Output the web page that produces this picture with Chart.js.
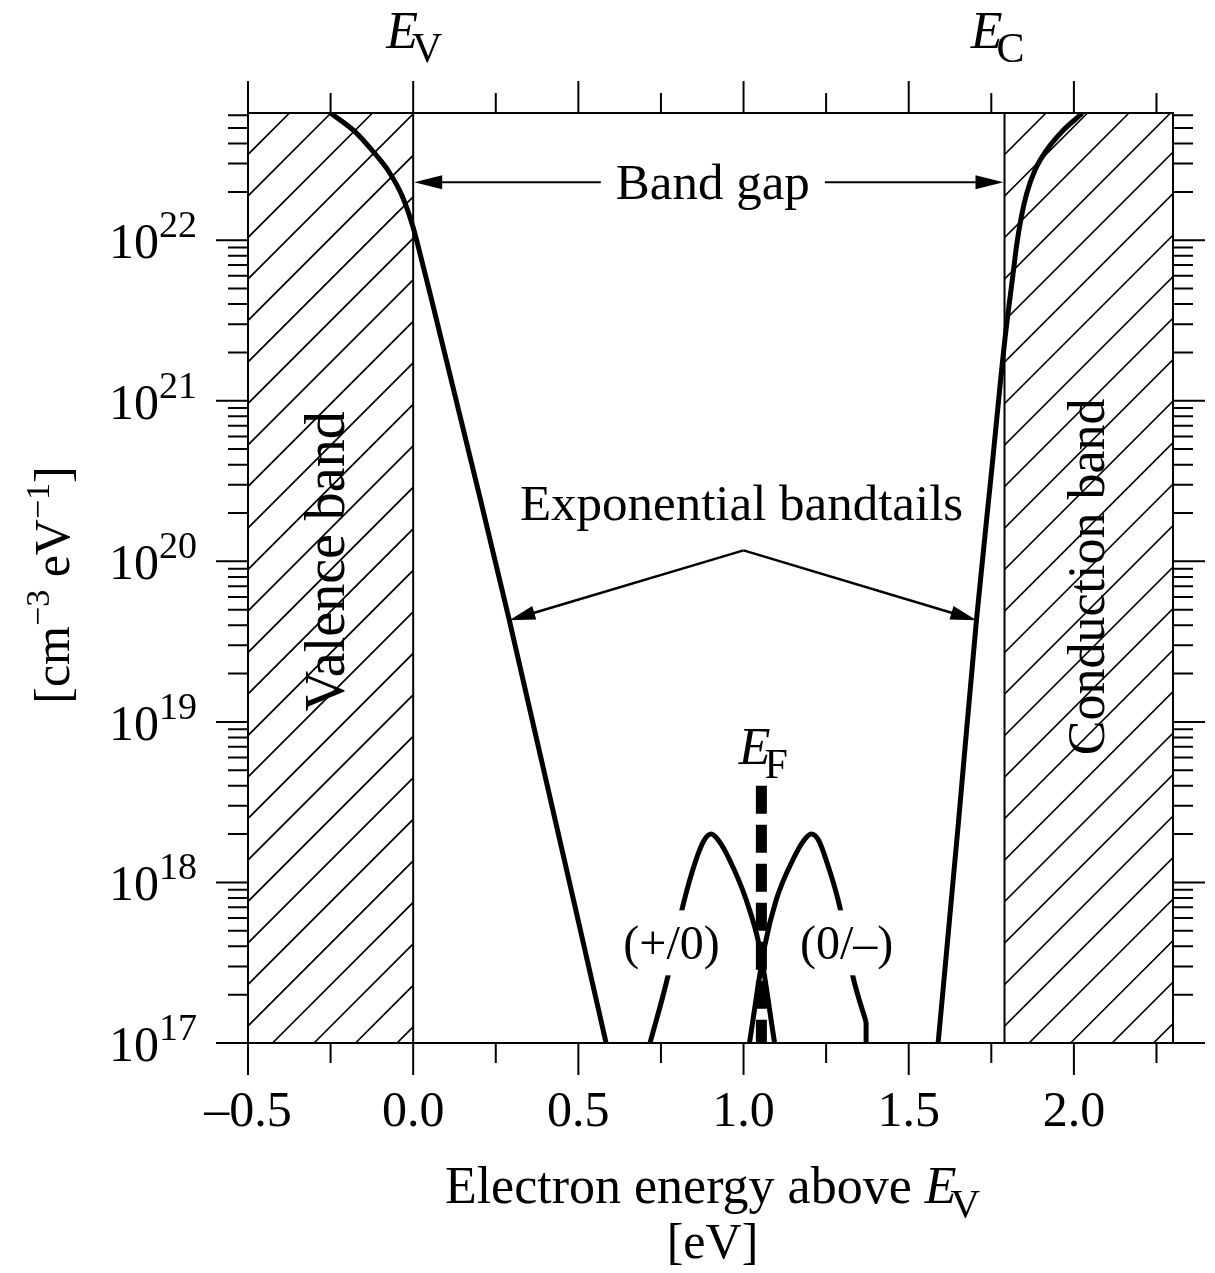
<!DOCTYPE html>
<html>
<head>
<meta charset="utf-8">
<title>Density of states in the band gap</title>
<script src="https://cdn.jsdelivr.net/npm/chart.js@4.4.1/dist/chart.umd.min.js"></script>
<style>
  html, body { margin: 0; padding: 0; background: #fff; }
  canvas { display: block; }
</style>
</head>
<body>
<canvas id="dos" width="1215" height="1273"></canvas>
<script>
// energies in eV above E_V, densities in cm^-3 eV^-1
const EV = 0.0;
const EC = 1.79;
const EF = 1.054;
const xMin = -0.5, xMax = 2.3;
const yMin = 1e17, yMax = 6.2e22;

const xTickValues = [-0.5, 0, 0.5, 1, 1.5, 2];
const xTickLabels = ['\u20130.5', '0.0', '0.5', '1.0', '1.5', '2.0'];
const yDecades = [17, 18, 19, 20, 21, 22];
const ySubTicks = [2, 3, 4, 5, 6, 7, 8, 9];

const valenceE = [-0.25, -0.174, -0.123, -0.073, -0.032, 0.0, 0.023, 0.054, 0.20, 0.291, 0.584];
const valenceN = [6.2e22, 4.7e22, 3.6e22, 2.66e22, 1.86e22, 1.2e22, 7.9e21, 4.4e21, 2.6e20, 4.3e19, 1.0e17];

const conductionE = [1.589, 1.650, 1.705, 1.750, 1.792, 1.816, 1.826, 1.841, 1.857, 1.882, 1.917, 1.968, 2.018, 2.025];
const conductionN = [1.0e17, 2.3e18, 4.3e19, 3.5e20, 2.5e21, 6.2e21, 9.1e21, 1.4e22, 1.95e22, 2.73e22, 3.63e22, 4.84e22, 6.0e22, 6.2e22];

// (+/0) defect level
const donorE = [0.717, 0.771, 0.816, 0.856, 0.880, 0.902, 0.925, 0.958, 1.008, 1.048, 1.094];
const donorN = [1.0e17, 2.6e17, 7.1e17, 1.38e18, 1.82e18, 2.0e18, 1.82e18, 1.38e18, 7.8e17, 4.0e17, 1.0e17];

// (0/-) defect level, cut off with a vertical drop at its high-energy end
const acceptorE = [1.018, 1.064, 1.099, 1.149, 1.182, 1.205, 1.228, 1.250, 1.291, 1.331, 1.371];
const acceptorN = [1.0e17, 4.0e17, 7.8e17, 1.38e18, 1.82e18, 2.0e18, 1.82e18, 1.38e18, 7.1e17, 2.6e17, 1.35e17];
const acceptorDropE = [1.371, 1.371];
const acceptorDropN = [1.35e17, 1.0e17];

const fermiE = [EF, EF];
const fermiN = [4.0e18, 1.0e17];

const FONT = '"Liberation Serif", "Times New Roman", serif';

function series(xs, ys) {
    return xs.map((x, i) => ({ x: x, y: ys[i] }));
}

function fontOf(p) {
    return (p.italic ? 'italic ' : '') + p.size + 'px ' + FONT;
}

// draws a run of text pieces (for sub/superscripts)
function richText(ctx, parts, x, y, align) {
    let total = 0;
    const widths = parts.map(p => {
        ctx.font = fontOf(p);
        const w = ctx.measureText(p.t).width + (p.dx || 0);
        total += w;
        return w;
    });
    let cx = align === 'center' ? x - total / 2 : (align === 'right' ? x - total : x);
    ctx.textAlign = 'left';
    ctx.textBaseline = 'alphabetic';
    parts.forEach((p, i) => {
        ctx.font = fontOf(p);
        ctx.fillText(p.t, cx + (p.dx || 0), y + (p.dy || 0));
        cx += widths[i];
    });
}

function hatch(ctx, x0, y0, x1, y1) {
    const gap = 41.5;
    ctx.save();
    ctx.beginPath();
    ctx.rect(x0, y0, x1 - x0, y1 - y0);
    ctx.clip();
    ctx.strokeStyle = '#000';
    ctx.lineWidth = 1.6;
    ctx.beginPath();
    for (let c = x0 + y0; c < x1 + y1 + gap; c += gap) {
        ctx.moveTo(c - y1, y1);
        ctx.lineTo(c - y0, y0);
    }
    ctx.stroke();
    ctx.restore();
}

function arrow(ctx, x1, y1, x2, y2, len, half) {
    const a = Math.atan2(y2 - y1, x2 - x1);
    const c = Math.cos(a), s = Math.sin(a);
    ctx.beginPath();
    ctx.moveTo(x1, y1);
    ctx.lineTo(x2 - c * len * 0.7, y2 - s * len * 0.7);
    ctx.stroke();
    ctx.beginPath();
    ctx.moveTo(x2, y2);
    ctx.lineTo(x2 - len * c + half * s, y2 - len * s - half * c);
    ctx.lineTo(x2 - len * c - half * s, y2 - len * s + half * c);
    ctx.closePath();
    ctx.fill();
}

const bandPlugin = {
    id: 'bands',
    beforeDraw(chart) {
        const ctx = chart.ctx;
        ctx.save();
        ctx.fillStyle = '#fff';
        ctx.fillRect(0, 0, chart.width, chart.height);
        ctx.restore();
    },
    beforeDatasetsDraw(chart) {
        const ctx = chart.ctx;
        const xs = chart.scales.x;
        const { top, bottom, left, right } = chart.chartArea;
        const pv = xs.getPixelForValue(EV);
        const pc = xs.getPixelForValue(EC);
        hatch(ctx, left, top, pv, bottom);
        hatch(ctx, pc, top, right, bottom);
        ctx.save();
        ctx.strokeStyle = '#000';
        ctx.lineWidth = 2;
        ctx.beginPath();
        ctx.moveTo(pv, top); ctx.lineTo(pv, bottom);
        ctx.moveTo(pc, top); ctx.lineTo(pc, bottom);
        ctx.stroke();
        ctx.restore();
    },
    afterDatasetsDraw(chart) {
        const ctx = chart.ctx;
        const xs = chart.scales.x, ys = chart.scales.y;
        const { top, bottom, left, right } = chart.chartArea;
        ctx.save();
        ctx.fillStyle = '#000';
        ctx.strokeStyle = '#000';

        // defect labels sit on white boxes that cut the curves
        [['(+/0)', 0.782], ['(0/\u2013)', 1.312]].forEach(([t, e]) => {
            const cx = xs.getPixelForValue(e);
            const cy = ys.getPixelForValue(4e17);
            ctx.font = '48px ' + FONT;
            const w = ctx.measureText(t).width;
            ctx.fillStyle = '#fff';
            ctx.fillRect(cx - w / 2 - 8, cy - 36, w + 16, 65);
            ctx.fillStyle = '#000';
            ctx.textAlign = 'center';
            ctx.textBaseline = 'alphabetic';
            ctx.fillText(t, cx, cy + 13);
        });

        // frame
        ctx.lineWidth = 2;
        ctx.strokeRect(left, top, right - left, bottom - top);

        // ticks on all four sides
        ctx.beginPath();
        xs.ticks.forEach(t => {
            const p = xs.getPixelForValue(t.value);
            const major = Math.abs(t.value * 2 - Math.round(t.value * 2)) < 1e-6;
            const len = major ? 32 : 20;
            ctx.moveTo(p, bottom); ctx.lineTo(p, bottom + len);
            ctx.moveTo(p, top); ctx.lineTo(p, top - len);
        });
        yDecades.forEach(d => {
            [1].concat(ySubTicks).forEach(s => {
                const v = s * Math.pow(10, d);
                if (v > yMax) return;
                const p = ys.getPixelForValue(v);
                const len = s === 1 ? 32 : 20;
                ctx.moveTo(left, p); ctx.lineTo(left - len, p);
                ctx.moveTo(right, p); ctx.lineTo(right + len, p);
            });
        });
        ctx.stroke();

        // y tick labels 10^n
        yDecades.forEach(d => {
            const p = ys.getPixelForValue(Math.pow(10, d));
            richText(ctx, [{ t: '10', size: 50 }, { t: String(d), size: 38, dy: -21 }], left - 51, p + 18, 'right');
        });

        // E_V and E_C above the frame
        richText(ctx, [{ t: 'E', size: 52, italic: true }, { t: 'V', size: 42, dy: 14, dx: -6 }], xs.getPixelForValue(EV) + 1, 48, 'center');
        richText(ctx, [{ t: 'E', size: 52, italic: true }, { t: 'C', size: 42, dy: 14, dx: -6 }], xs.getPixelForValue(EC) - 7, 48, 'center');

        // band gap arrows
        const pv = xs.getPixelForValue(EV), pc = xs.getPixelForValue(EC);
        const gy = ys.getPixelForValue(2.3e22);
        const gx = (pv + pc) / 2 + 4;
        ctx.font = '51px ' + FONT;
        const gw = ctx.measureText('Band gap').width;
        ctx.textAlign = 'center';
        ctx.textBaseline = 'alphabetic';
        ctx.fillText('Band gap', gx, gy + 17);
        ctx.lineWidth = 2;
        arrow(ctx, gx - gw / 2 - 15, gy, pv + 1, gy, 28, 7);
        arrow(ctx, gx + gw / 2 + 15, gy, pc - 1, gy, 28, 7);

        // exponential bandtails
        const ax = xs.getPixelForValue(1.0), ay = ys.getPixelForValue(1.17e20);
        ctx.font = '51px ' + FONT;
        ctx.textAlign = 'center';
        ctx.fillText('Exponential bandtails', ax - 2, ay - 30);
        ctx.lineWidth = 2.5;
        arrow(ctx, ax, ay, xs.getPixelForValue(0.291), ys.getPixelForValue(4.3e19), 26, 7);
        arrow(ctx, ax, ay, xs.getPixelForValue(1.705), ys.getPixelForValue(4.3e19), 26, 7);

        // E_F above the dashed line
        richText(ctx, [{ t: 'E', size: 52, italic: true }, { t: 'F', size: 42, dy: 14, dx: -6 }], xs.getPixelForValue(EF) + 2, ys.getPixelForValue(4.0e18) - 22, 'center');

        // rotated band labels
        ctx.textAlign = 'center';
        ctx.textBaseline = 'middle';
        [['Valence band', -0.255, 1.0e20, 56], ['Conduction band', 2.05, 8.0e19, 52]].forEach(([t, e, n, size]) => {
            ctx.save();
            ctx.font = size + 'px ' + FONT;
            ctx.translate(xs.getPixelForValue(e), ys.getPixelForValue(n));
            ctx.rotate(-Math.PI / 2);
            ctx.fillText(t, 0, 0);
            ctx.restore();
        });

        // y axis title [cm^-3 eV^-1]
        ctx.save();
        ctx.translate(69, 585);
        ctx.rotate(-Math.PI / 2);
        richText(ctx, [
            { t: '[cm', size: 50 },
            { t: '\u22123', size: 34, dy: -20 },
            { t: ' eV', size: 50 },
            { t: '\u22121', size: 34, dy: -20 },
            { t: ']', size: 50 }
        ], 0, 0, 'center');
        ctx.restore();

        // x axis title
        const mid = (left + right) / 2;
        richText(ctx, [
            { t: 'Electron energy above ', size: 52 },
            { t: 'E', size: 52, italic: true },
            { t: 'V', size: 41, dy: 14, dx: -6 }
        ], mid + 2, 1203, 'center');
        ctx.font = '50px ' + FONT;
        ctx.textAlign = 'center';
        ctx.textBaseline = 'alphabetic';
        ctx.fillText('[eV]', mid + 2, 1258);

        ctx.restore();
    }
};

const curve = {
    borderColor: '#000',
    borderWidth: 5,
    pointRadius: 0,
    fill: false,
    cubicInterpolationMode: 'monotone'
};

new Chart(document.getElementById('dos'), {
    type: 'line',
    data: {
        datasets: [
            Object.assign({ label: 'Valence band tail', data: series(valenceE, valenceN) }, curve),
            Object.assign({ label: 'Conduction band tail', data: series(conductionE, conductionN) }, curve),
            Object.assign({ label: '(+/0)', data: series(donorE, donorN) }, curve),
            Object.assign({ label: '(0/-)', data: series(acceptorE, acceptorN) }, curve),
            {
                label: '(0/-) cut-off', data: series(acceptorDropE, acceptorDropN),
                borderColor: '#000', borderWidth: 5, pointRadius: 0, fill: false, tension: 0
            },
            {
                label: 'E_F', data: series(fermiE, fermiN),
                borderColor: '#000', borderWidth: 11, borderDash: [28, 11], borderCapStyle: 'butt',
                pointRadius: 0, fill: false, tension: 0
            }
        ]
    },
    options: {
        responsive: false,
        animation: false,
        devicePixelRatio: 1,
        layout: { padding: { top: 113, right: 42, left: 0, bottom: 0 } },
        plugins: { legend: { display: false }, tooltip: { enabled: false } },
        scales: {
            x: {
                type: 'linear', min: xMin, max: xMax,
                grid: { display: false, drawTicks: false },
                border: { display: false },
                ticks: {
                    stepSize: 0.25, includeBounds: false, autoSkip: false, maxRotation: 0, minRotation: 0,
                    padding: 40, color: '#000', font: { family: FONT, size: 50 },
                    callback: v => {
                        const i = xTickValues.findIndex(t => Math.abs(t - v) < 1e-6);
                        return i >= 0 ? xTickLabels[i] : '';
                    }
                },
                afterFit: s => { s.height = 230; }
            },
            y: {
                type: 'logarithmic', min: yMin, max: yMax,
                grid: { display: false, drawTicks: false },
                border: { display: false },
                ticks: { display: false },
                afterFit: s => { s.width = 248; }
            }
        }
    },
    plugins: [bandPlugin]
});
</script>
</body>
</html>
